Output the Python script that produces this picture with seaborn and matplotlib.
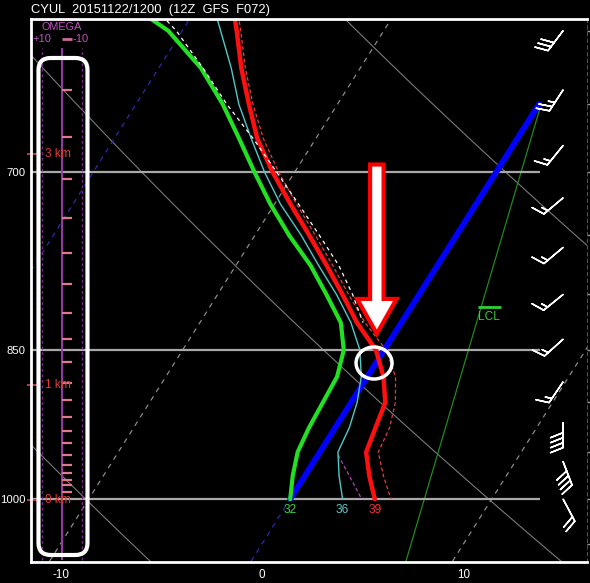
import numpy as np
import pandas as pd
import matplotlib.pyplot as plt
import matplotlib.patches as mpatches
from matplotlib.ticker import FixedLocator, NullFormatter
import seaborn as sns

# ---- sounding values (pressure hPa, temperature C) ----
levels = [590, 600, 625, 650, 675, 700, 725, 750, 775, 800, 825, 850, 875, 900, 925, 950, 975, 1000]
temp = [-17.9, -17.3, -15.9, -14.4, -12.9, -11.1, -9.2, -7.3, -5.5, -3.8, -2.2, -0.4, 0.8, 1.7, 2.0, 2.3, 3.2, 4.2]
temp_virt = [-17.7, -17.1, -15.7, -14.2, -12.6, -10.8, -8.9, -7.0, -5.2, -3.5, -1.8, 0.1, 1.4, 2.2, 2.7, 2.9, 3.9, 5.0]
wetbulb = [-18.8, -18.1, -16.4, -14.9, -13.2, -11.5, -9.7, -7.7, -5.9, -4.1, -2.5, -1.2, -0.3, 0.3, 0.7, 0.9, 1.7, 2.6]
dewpt = [-22.3, -20.7, -17.9, -15.7, -13.8, -12.0, -10.2, -8.3, -6.3, -4.6, -3.0, -2.0, -1.5, -1.4, -1.3, -1.1, -0.6, 0.0]
parcel_p = [590, 600, 625, 650, 675, 700, 725, 750, 775, 800, 825]
parcel_t = [-21.5, -20.3, -17.8, -15.5, -13.1, -10.9, -8.8, -6.8, -4.9, -3.3, -1.9]
omega_p = [953, 1000]
omega_t = [1.0, 3.55]
mixr_p = [1071, 654]
mixr_t = [7.7, 0.2]
sfc_labels = ['32', '36', '39']   # deg F at 1000 hPa: dewpoint, wet bulb, temperature
lcl_p = 811

# wind barbs
wind_p = [600, 640, 680, 720, 760, 800, 840, 880, 920, 960, 1000]
wind_dir = [217, 213, 219, 230, 230, 231, 228, 214, 180, 159, 152]
wind_spd = [30, 25, 15, 15, 15, 15, 15, 15, 40, 40, 20]

# model levels / height marks in the omega column
model_p = [640, 674, 705, 736, 765, 791, 816, 840, 861, 881, 898, 914, 928, 941, 953, 963, 972, 979, 985, 992]
km_p = [686, 883, 1001]
km_labels = ['3 km', '1 km', '0 km']

iso_gray = [-10, 10]
theta_lines = [263, 283, 303]
p_labels = [700, 850, 1000]
x_ticks = [-10, 0, 10]

SKEW, P_REF = 28.67, 1050.0


def skew_x(t, p):
    return np.asarray(t, float) + SKEW * np.log(P_REF / np.asarray(p, float))


sns.set_style('dark', {'axes.facecolor': 'black', 'figure.facecolor': 'black'})
plt.rcParams['font.family'] = ['Liberation Sans', 'DejaVu Sans']

fig = plt.figure(figsize=(5.9, 5.83), dpi=100)
fig.patch.set_facecolor('black')
ax = fig.add_axes([31 / 590, 21 / 583, 556 / 590, 543 / 583])
ax.set_facecolor('black')
ax.set_yscale('log')


def draw(t, p, **kw):
    d = pd.DataFrame({'x': skew_x(t, p), 'p': p})
    sns.lineplot(data=d, x='x', y='p', sort=False, estimator=None, ax=ax, **kw)


# background: dry adiabats, isotherms, mixing ratio
p_grid = np.geomspace(580, 1080, 40)
for th in theta_lines:
    draw(th * (p_grid / 1000.0) ** 0.286 - 273.15, p_grid, color='#7a7a7a', lw=0.8)
for t in iso_gray:
    draw([t, t], [1080, 580], color='#8a8a8a', lw=0.9, linestyle=(0, (4, 4)))
draw([-20, -20], [1080, 580], color='#2a2ab0', lw=0.9, linestyle=(0, (4, 4)))
draw([0, 0], [1080, 1000], color='#2a2ab0', lw=0.9, linestyle=(0, (4, 4)))
draw(mixr_t, mixr_p, color='#1f8a1f', lw=0.9)

# pressure lines
ax.hlines(p_labels, 0, 0.915, transform=ax.get_yaxis_transform(), color='#a8a8a8', lw=1.6)

# freezing level
draw([0, 0], [1000, 650], color='#0000ff', lw=4.2, solid_capstyle='round')

# profiles
draw(omega_t, omega_p, color='#b040b0', lw=0.9, linestyle=(0, (3, 2)))
draw(temp_virt, levels, color='#e04040', lw=0.9, linestyle=(0, (3, 2)))
draw(wetbulb, levels, color='#50c8c8', lw=1.0)
draw(dewpt, levels, color='#22e022', lw=3.0)
draw(temp, levels, color='#ff1010', lw=3.2)
draw(parcel_t, parcel_p, color='white', lw=0.9, linestyle=(0, (3, 3)))

ax.set_xlim((31 - 262) / 20.15, (587 - 262) / 20.15)
ax.set_ylim(1071, 592.4)
ax.set_xlabel('')
ax.set_ylabel('')

ytr = ax.get_yaxis_transform()

# surface values
sfc_t = [dewpt[-1], wetbulb[-1], temp[-1]]
for t, lab, c in zip(sfc_t, sfc_labels, ['#40d040', '#60c8c8', '#ff3030']):
    ax.text(skew_x(t, 1000), 1012, lab, color=c, fontsize=8.6, ha='center', va='center')

# LCL marker
ax.hlines(lcl_p, 0.804, 0.845, transform=ytr, color='#30d030', lw=2)
ax.text(0.8245, lcl_p * 1.004, 'LCL', color='#30d030', fontsize=8.6, ha='center', va='top',
        transform=ytr)

# omega / height column
ax.vlines([0.0198, 0.0917], 0.004, 0.947, transform=ax.transAxes, color='#7a2a8a', lw=1.0,
          linestyle=(0, (2, 2)))
ax.vlines(0.0558, 0.004, 0.947, transform=ax.transAxes, color='#9a3aaa', lw=1.4)
ax.hlines(model_p, 0.0558, 0.0738, transform=ytr, color='#e07a8a', lw=1.6)
ax.hlines(km_p, -0.008, 0.016, transform=ytr, color='#d03040', lw=1.4, clip_on=False)
for p, lab in zip(km_p, km_labels):
    ax.text(0.0255, p, lab, color='#e03a3a', fontsize=8.6, va='center', transform=ytr)
box = mpatches.FancyBboxPatch((0.0135, 0.0129), 0.0881, 0.9153,
                              boxstyle='round,pad=0,rounding_size=0.022',
                              transform=ax.transAxes, fill=False, ec='white', lw=3, zorder=5)
ax.add_patch(box)
ax.text(0.056, 0.985, 'OMEGA', color='#c050c0', fontsize=7.8, ha='center', va='center',
        transform=ax.transAxes)
ax.text(0.002, 0.963, '+10', color='#c050c0', fontsize=8, ha='left', va='center', transform=ax.transAxes)
ax.text(0.104, 0.963, '-10', color='#c050c0', fontsize=8, ha='right', va='center', transform=ax.transAxes)
ax.hlines(0.963, 0.0558, 0.0738, transform=ax.transAxes, color='#d06a9a', lw=2)

# wind barbs
rad = np.deg2rad(wind_dir)
u = -np.asarray(wind_spd) * np.sin(rad)
v = -np.asarray(wind_spd) * np.cos(rad)
ax.barbs(np.full(len(wind_p), 0.957), wind_p, u, v, length=6, color='white', lw=1.1,
         sizes={'spacing': 0.2, 'height': 0.5, 'width': 0.4}, transform=ytr, zorder=6)

# the arrow and circle annotation
arrow = mpatches.FancyArrow(0.622, 0.732, 0, -0.3115, width=0.0243, head_width=0.071,
                            head_length=0.064, length_includes_head=True,
                            transform=ax.transAxes, fc='white', ec='#ff0000', lw=3, zorder=7)
ax.add_patch(arrow)
ax.add_patch(mpatches.Ellipse((0.617, 0.3665), 0.0647, 0.059, transform=ax.transAxes,
                              fill=False, ec='white', lw=2.5, zorder=7))

# axes styling
for side in ['left', 'top', 'bottom']:
    ax.spines[side].set_color('white')
    ax.spines[side].set_linewidth(2)
ax.spines['right'].set_color('#505050')
ax.spines['right'].set_linestyle((0, (3, 3)))
ax.yaxis.set_major_locator(FixedLocator(p_labels))
ax.yaxis.set_minor_locator(FixedLocator([600, 650, 750, 800, 900, 950, 1050]))
ax.yaxis.set_major_formatter(plt.FuncFormatter(lambda val, pos: f'{val:.0f}'))
ax.yaxis.set_minor_formatter(NullFormatter())
ax.tick_params(axis='y', which='both', colors='#9a9a9a', labelcolor='white', labelsize=8.2,
               length=3, width=1, direction='out', right=True, pad=1)
ax.set_xticks(x_ticks)
ax.set_xticklabels([str(t) for t in x_ticks])
ax.tick_params(axis='x', colors='white', labelsize=8.4, length=0, pad=5)

fig.text(31 / 590, 1 - 10 / 583, 'CYUL  20151122/1200  (12Z  GFS  F072)', color='white',
         fontsize=9.3, va='center', ha='left')

fig.savefig('out.png', dpi=100, facecolor='black')
